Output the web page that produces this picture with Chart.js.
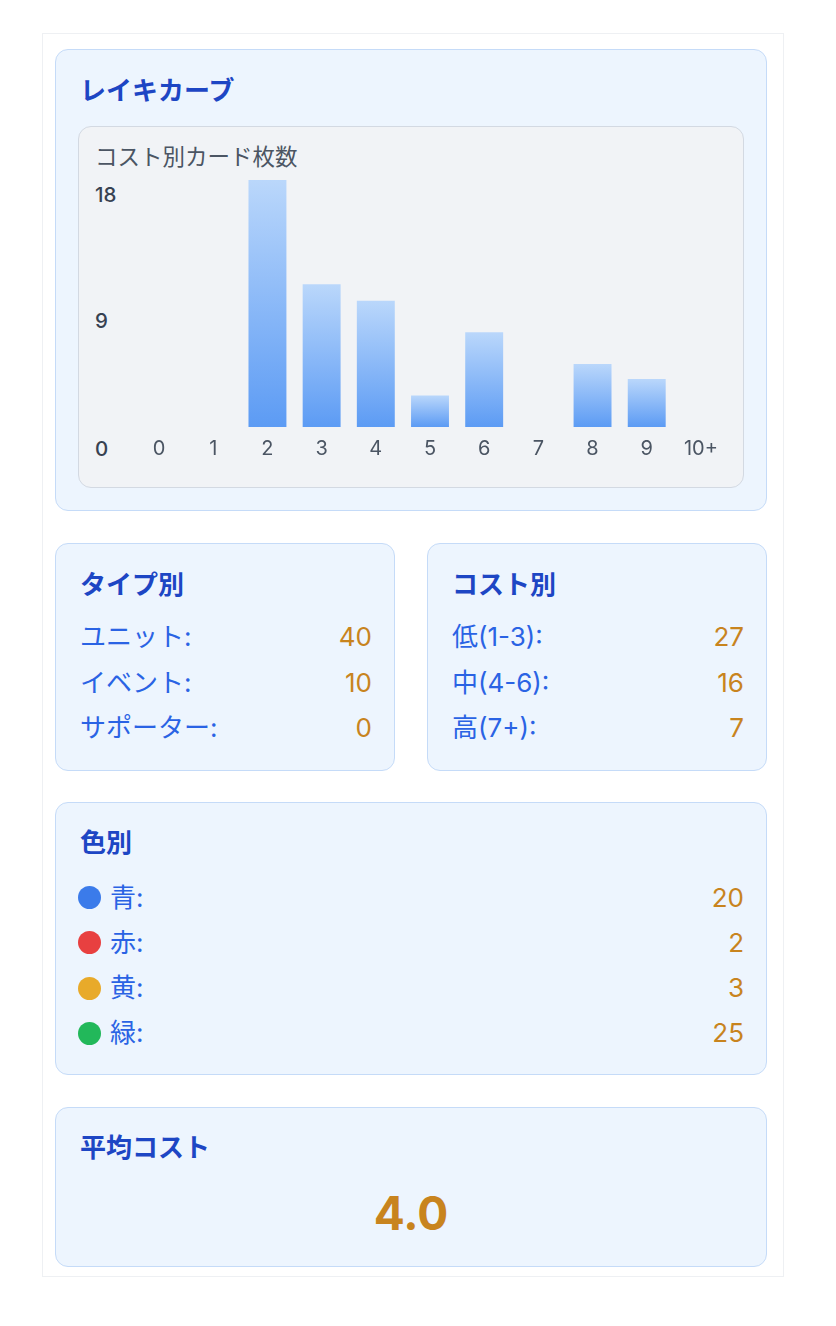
<!DOCTYPE html>
<html lang="ja">
<head>
<meta charset="utf-8">
<script src="https://cdn.jsdelivr.net/npm/chart.js@4/dist/chart.umd.min.js"></script>
<style>
  html, body { margin:0; padding:0; background:#ffffff; }
  body { width:836px; height:1326px; position:relative; font-family: Inter, "Noto Sans CJK JP", sans-serif; }
  .abs { position:absolute; }
  .outer { left:42px; top:33px; width:742px; height:1244px; border:1px solid #eef0f3; box-sizing:border-box; background:#fff; }
  .panel { background:#edf5fe; border:1px solid #c5dbf8; border-radius:13px; box-sizing:border-box; }
  .title { font-size:26px; font-weight:700; color:#1d46c4; line-height:34px; height:34px; white-space:nowrap; }
  .chartbox { background:#f1f3f6; border:1px solid #d3d9e2; border-radius:13px; box-sizing:border-box; }
  .subtitle { font-size:22.5px; color:#4b5563; line-height:30px; height:30px; white-space:nowrap; }
  .ytick { font-size:20.5px; font-weight:500; color:#374151; line-height:24px; height:24px; }
  .lbl { font-size:26px; color:#2a63e4; line-height:34px; height:34px; white-space:nowrap; }
  .val { font-size:26px; color:#c8841e; line-height:34px; height:34px; text-align:right; white-space:nowrap; }
  .dot { width:23px; height:23px; border-radius:50%; }
  .avg { font-size:46px; font-weight:700; color:#c8841e; line-height:56px; height:56px; text-align:center; }
</style>
</head>
<body>
<div class="abs outer"></div>

<div class="abs panel" style="left:55px;top:49px;width:712px;height:462px;"></div>
<div class="abs title" id="t1" style="left:80px;top:74px;"></div>
<div class="abs chartbox" style="left:78px;top:126px;width:666px;height:362px;"></div>
<div class="abs subtitle" id="sub" style="left:95px;top:142px;"></div>
<div id="yticks"></div>
<canvas id="c" class="abs" width="596" height="310" style="left:132px;top:170px;width:596px;height:310px;"></canvas>

<div class="abs panel" style="left:55px;top:543px;width:340px;height:228px;"></div>
<div class="abs panel" style="left:427px;top:543px;width:340px;height:228px;"></div>
<div class="abs panel" style="left:55px;top:802px;width:712px;height:273px;"></div>
<div class="abs panel" style="left:55px;top:1107px;width:712px;height:160px;"></div>
<div id="stats"></div>

<script>
// ---- data ----
const chartTitle = 'レイキカーブ';
const chartSubtitle = 'コスト別カード枚数';
const costLabels = ['0', '1', '2', '3', '4', '5', '6', '7', '8', '9', '10+'];
const cardCounts = [0, 0, 18, 10.4, 9.2, 2.3, 6.9, 0, 4.6, 3.5, 0];
const yTickLabels = ['18', '9', '0'];

const typeTitle = 'タイプ別';
const typeLabels = ['ユニット:', 'イベント:', 'サポーター:'];
const typeValues = [40, 10, 0];

const costGroupTitle = 'コスト別';
const costGroupLabels = ['低(1-3):', '中(4-6):', '高(7+):'];
const costGroupValues = [27, 16, 7];

const colorTitle = '色別';
const colorLabels = ['青:', '赤:', '黄:', '緑:'];
const colorValues = [20, 2, 3, 25];

const avgTitle = '平均コスト';
const avgValue = '4.0';

// ---- styles (kept apart from data) ----
const dotColors = ['#3b7bea', '#e84040', '#e8aa2a', '#22b85a'];
const yTickCenters = [195, 321, 449];

// ---- text ----
document.getElementById('t1').textContent = chartTitle;
document.getElementById('sub').textContent = chartSubtitle;

const yt = document.getElementById('yticks');
yTickLabels.forEach((t, i) => {
  const d = document.createElement('div');
  d.className = 'abs ytick';
  d.style.left = '95px';
  d.style.top = (yTickCenters[i] - 12) + 'px';
  d.textContent = t;
  yt.appendChild(d);
});

const st = document.getElementById('stats');
function addEl(cls, text, left, top, width) {
  const d = document.createElement('div');
  d.className = 'abs ' + cls;
  d.style.left = left + 'px';
  d.style.top = top + 'px';
  if (width) d.style.width = width + 'px';
  d.textContent = text;
  st.appendChild(d);
  return d;
}
// type panel
addEl('title', typeTitle, 80, 568);
typeLabels.forEach((l, i) => {
  const cy = 637 + i * 45.5;
  addEl('lbl', l, 80, cy - 17);
  addEl('val', String(typeValues[i]), 250, cy - 17, 122);
});
// cost group panel
addEl('title', costGroupTitle, 452, 568);
costGroupLabels.forEach((l, i) => {
  const cy = 637 + i * 45.5;
  addEl('lbl', l, 452, cy - 17);
  addEl('val', String(costGroupValues[i]), 620, cy - 17, 124);
});
// color panel
addEl('title', colorTitle, 80, 826);
colorLabels.forEach((l, i) => {
  const cy = 897.5 + i * 45.3;
  const dot = addEl('dot', '', 78, cy - 11.5);
  dot.style.background = dotColors[i];
  addEl('lbl', l, 110, cy - 17);
  addEl('val', String(colorValues[i]), 600, cy - 17, 144);
});
// average panel
addEl('title', avgTitle, 80, 1131);
addEl('avg', avgValue, 55, 1185, 712);

// ---- chart ----
const ctx = document.getElementById('c').getContext('2d');
new Chart(ctx, {
  type: 'bar',
  data: {
    labels: costLabels,
    datasets: [{
      data: cardCounts,
      borderWidth: 0,
      barPercentage: 0.70,
      categoryPercentage: 1.0,
      backgroundColor: (c) => {
        const chart = c.chart;
        const area = chart.chartArea;
        if (!area || c.type !== 'data' || !chart.scales.y) return '#8cb9f8';
        const v = c.parsed ? c.parsed.y : c.raw;
        const top = chart.scales.y.getPixelForValue(v);
        const base = chart.scales.y.getPixelForValue(0);
        if (!isFinite(top) || !isFinite(base) || Math.abs(base - top) < 1) return '#8cb9f8';
        const g = chart.ctx.createLinearGradient(0, top, 0, base);
        g.addColorStop(0, '#bad7fb');
        g.addColorStop(1, '#5c9bf4');
        return g;
      }
    }]
  },
  options: {
    responsive: false,
    animation: false,
    layout: { padding: { top: 10, bottom: 9, left: 0, right: 0 } },
    plugins: { legend: { display: false }, tooltip: { enabled: false } },
    scales: {
      x: {
        grid: { display: false, drawTicks: false },
        border: { display: false },
        ticks: {
          color: '#4b5563',
          font: { family: 'Inter, "Noto Sans CJK JP", sans-serif', size: 20 },
          padding: 10,
          maxRotation: 0,
          autoSkip: false
        }
      },
      y: { display: false, min: 0, max: 18 }
    }
  }
});
</script>
</body>
</html>
